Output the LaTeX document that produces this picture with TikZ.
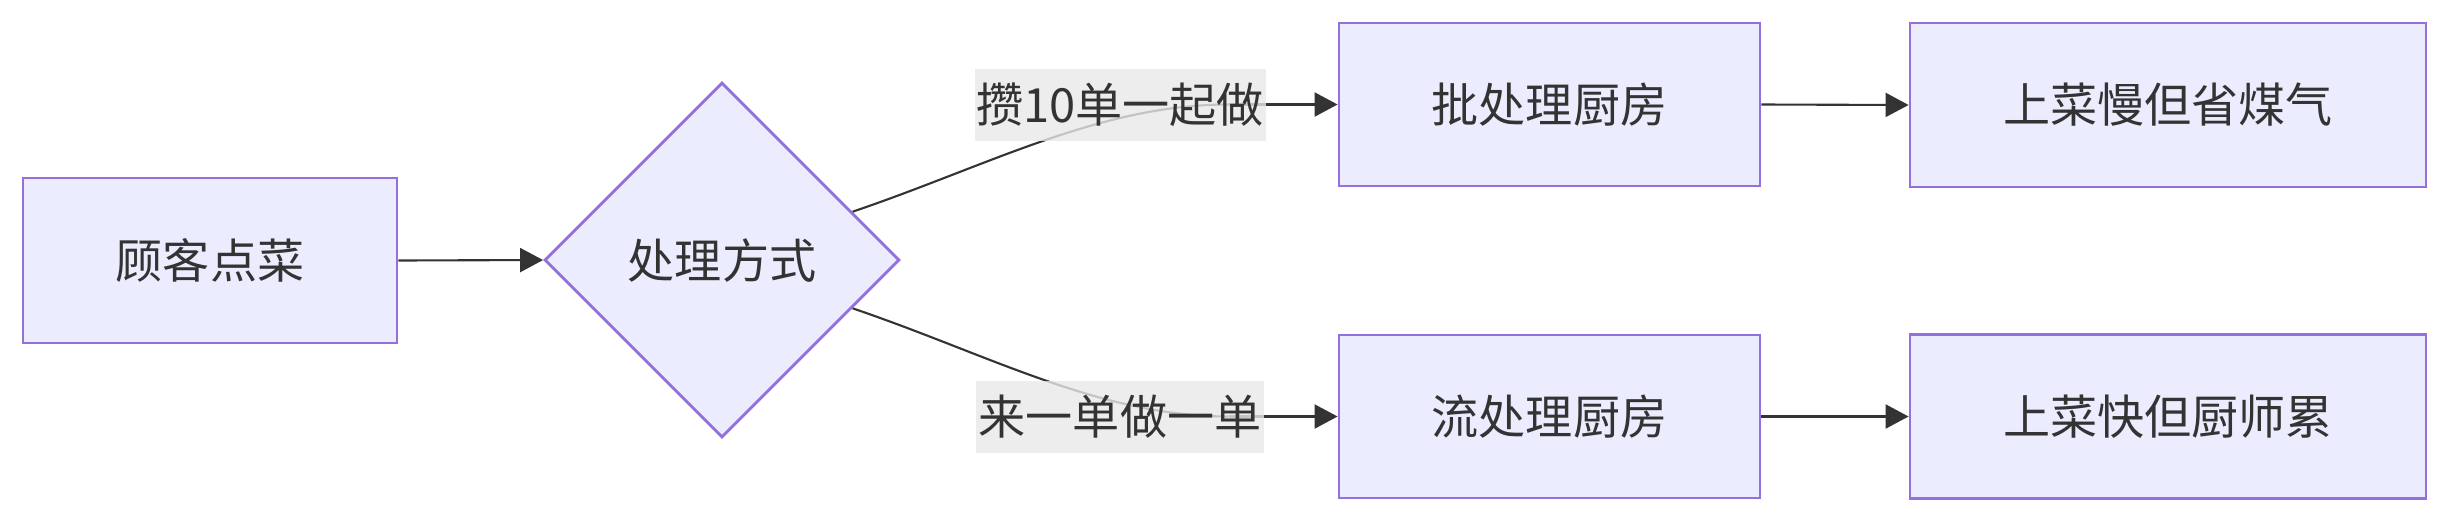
\documentclass[tikz,border=0pt]{standalone}
\usepackage{fontspec}
\setmainfont{Noto Sans CJK SC}
\usetikzlibrary{shapes.geometric,arrows.meta,calc}
\definecolor{nodefill}{HTML}{ECECFF}
\definecolor{nodeline}{HTML}{9370DB}
\definecolor{ink}{HTML}{333333}
\definecolor{lblbg}{HTML}{E8E8E8}
\tikzset{
  box/.style={draw=nodeline, fill=nodefill, line width=0.8pt, inner sep=0pt, text=ink,
    font=\fontsize{13.4}{16}\selectfont},
  decision/.style={box, diamond, aspect=1, minimum width=3.55cm, minimum height=3.55cm},
  lbl/.style={fill=lblbg, fill opacity=0.8, text opacity=1, text=ink, inner sep=0pt,
    font=\fontsize{13.4}{16}\selectfont, minimum height=0.72cm},
  flow/.style={draw=ink, line width=0.6pt, -{Triangle[length=0.23cm,width=0.24cm]}},
  plain/.style={draw=ink, line width=0.6pt}
}
\begin{document}
\begin{tikzpicture}
\useasboundingbox (0,0) rectangle (24.5,-5.22);
\node[box, minimum width=3.74cm, minimum height=1.65cm] (A) at (2.10,-2.605) {顾客点菜};
\node[decision] (B) at (7.22,-2.60) {处理方式};
\node[box, minimum width=4.21cm, minimum height=1.63cm] (C) at (15.495,-1.045) {批处理厨房};
\node[box, minimum width=4.21cm, minimum height=1.63cm] (D) at (15.495,-4.165) {流处理厨房};
\node[box, minimum width=5.16cm, minimum height=1.64cm] (E) at (21.68,-1.05) {上菜慢但省煤气};
\node[box, minimum width=5.16cm, minimum height=1.64cm] (F) at (21.68,-4.165) {上菜快但厨师累};

\coordinate (b1) at ($(B.north)!0.73!(B.east)$);
\coordinate (b2) at ($(B.south)!0.73!(B.east)$);
\coordinate (c1) at ($(C.west)+(-1.09,0)$);
\coordinate (d1) at ($(D.west)+(-1.09,0)$);

\draw[flow] (A.east) -- (B.west);
\draw[plain] (b1) .. controls (9.90,-1.65) and (11.0,-1.045) .. (c1);
\draw[flow] (c1) -- (C.west);
\draw[plain] (b2) .. controls (9.90,-3.55) and (11.0,-4.165) .. (d1);
\draw[flow] (d1) -- (D.west);

\node[lbl, minimum width=2.91cm] (L1) at (11.20,-1.05) {攒10单一起做};
\node[lbl, minimum width=2.88cm] (L2) at (11.20,-4.17) {来一单做一单};

\draw[flow] (C.east) -- (E.west);
\draw[flow] (D.east) -- (F.west);
\end{tikzpicture}
\end{document}
